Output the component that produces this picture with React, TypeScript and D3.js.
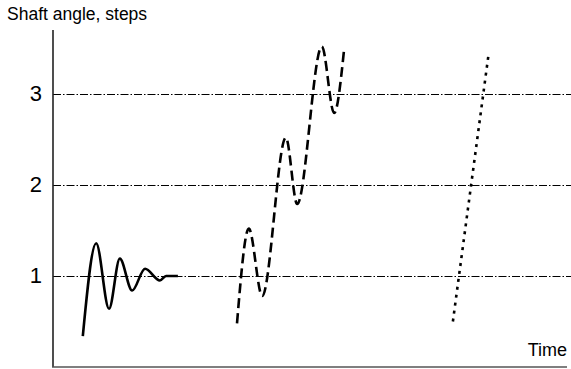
import React from "react";
import * as d3 from "d3";

const W = 571;
const H = 369;

// Time in arbitrary units (0..100), angle in steps
const solidTime = [5.8, 8.4, 10.9, 13.0, 15.4, 17.9, 20.8, 22.0, 24.3];
const solidAngle = [0.34, 1.36, 0.64, 1.19, 0.84, 1.08, 0.95, 1.0, 1.0];

const dashedTime = [35.8, 38.1, 40.7, 45.3, 47.5, 52.3, 54.7, 56.6];
const dashedAngle = [0.48, 1.52, 0.78, 2.52, 1.79, 3.52, 2.79, 3.47];

const dottedTime = [77.8, 84.8];
const dottedAngle = [0.5, 3.46];

const tickValues = [1, 2, 3];
const tickLabels = ["1", "2", "3"];

const yTitle = "Shaft angle, steps";
const xTitle = "Time";

const FONT = "'Liberation Sans', Arial, Helvetica, sans-serif";

export default function App() {
  const x = d3.scaleLinear().domain([0, 100]).range([53, 567]);
  const y = d3.scaleLinear().domain([0, 3.68]).range([367, 32]);

  const line = d3
    .line<[number, number]>()
    .x((d) => x(d[0]))
    .y((d) => y(d[1]))
    .curve(d3.curveMonotoneX);

  const straight = d3
    .line<[number, number]>()
    .x((d) => x(d[0]))
    .y((d) => y(d[1]));

  const zip = (a: number[], b: number[]) =>
    a.map((v, i) => [v, b[i]] as [number, number]);

  return (
    <svg
      width={W}
      height={H}
      style={{ position: "absolute", left: 0, top: 0, background: "#fff" }}
    >
      <rect x={0} y={0} width={W} height={H} fill="#fff" />
      {/* gridlines */}
      {tickValues.map((v) => (
        <line
          key={v}
          x1={x(0)}
          x2={W}
          y1={Math.round(y(v)) + 0.5}
          y2={Math.round(y(v)) + 0.5}
          stroke="#000"
          strokeWidth={1}
          strokeDasharray="8,2,1.5,2"
        />
      ))}
      {/* axes */}
      <line x1={x(0)} x2={x(0)} y1={30} y2={367} stroke="#222" strokeWidth={1.6} />
      <line x1={x(0) - 1} x2={x(100)} y1={367} y2={367} stroke="#555" strokeWidth={1.6} />
      {/* tick labels */}
      {tickValues.map((v, i) => (
        <text
          key={v}
          x={42}
          y={y(v)}
          textAnchor="end"
          dominantBaseline="central"
          fontFamily={FONT}
          fontSize={22}
          fill="#000"
        >
          {tickLabels[i]}
        </text>
      ))}
      <text x={7} y={20} fontFamily={FONT} fontSize={17.5} fill="#000">
        {yTitle}
      </text>
      <text
        x={567}
        y={356}
        textAnchor="end"
        fontFamily={FONT}
        fontSize={18}
        fill="#000"
      >
        {xTitle}
      </text>
      {/* series */}
      <path
        d={line(zip(solidTime, solidAngle)) || ""}
        fill="none"
        stroke="#000"
        strokeWidth={2.6}
      />
      <path
        d={line(zip(dashedTime, dashedAngle)) || ""}
        fill="none"
        stroke="#000"
        strokeWidth={2.6}
        strokeDasharray="10,5"
      />
      <path
        d={straight(zip(dottedTime, dottedAngle)) || ""}
        fill="none"
        stroke="#000"
        strokeWidth={2.6}
        strokeDasharray="3,5"
      />
    </svg>
  );
}
